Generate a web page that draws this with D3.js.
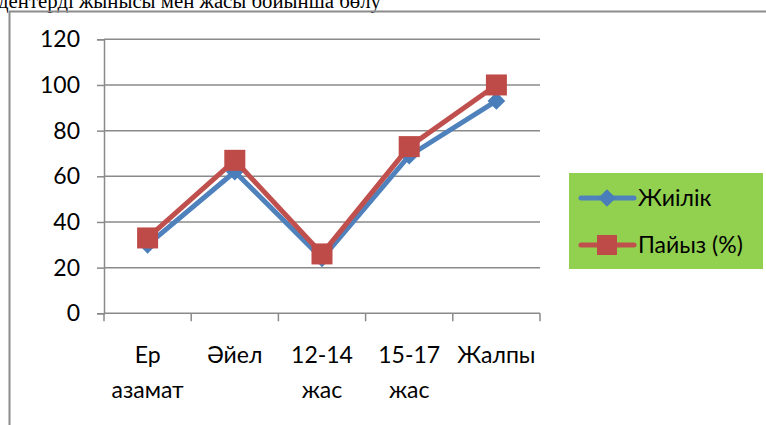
<!DOCTYPE html>
<html>
<head>
<meta charset="utf-8">
<script src="https://cdn.jsdelivr.net/npm/d3@7"></script>
<style>
  body { margin: 0; background: #fff; }
  svg { display: block; }
  .tick text { font-family: Lato, "Open Sans", sans-serif; }
</style>
</head>
<body>
<div id="chart"></div>
<script>
// chart data
var categories = ["Ер азамат", "Әйел", "12-14 жас", "15-17 жас", "Жалпы"];
var catLines = [["Ер", "азамат"], ["Әйел"], ["12-14", "жас"], ["15-17", "жас"], ["Жалпы"]];
var freqValues = [30, 62, 24, 69, 93];      // Жиілік
var pctValues = [33, 67, 26, 73, 100];      // Пайыз (%)
var yTicks = [0, 20, 40, 60, 80, 100, 120];
var seriesNames = ["Жиілік", "Пайыз (%)"];
var titleText = "дентерді жынысы мен жасы бойынша бөлу";

var svgWidth = 766;
var svgHeight = 425;

var plot = { left: 104, right: 540, top: 39.3, bottom: 313.3 };
var labelFont = "Lato, 'Open Sans', sans-serif";

var svg = d3.select("#chart")
    .append("svg")
    .attr("width", svgWidth)
    .attr("height", svgHeight);

// cut-off title from the document above the chart
svg.append("text")
    .attr("x", -2)
    .attr("y", 8)
    .style("font-family", "'Liberation Serif', 'Times New Roman', serif")
    .style("font-size", "20.8px")
    .attr("fill", "#000")
    .text(titleText);

// chart frame (only top and left edges visible)
svg.append("path")
    .attr("d", "M9.5,426V11.5H766")
    .attr("fill", "none")
    .attr("stroke", "#8c8c8c")
    .attr("stroke-width", 2);

var x = d3.scaleBand()
    .domain(categories)
    .range([plot.left, plot.right]);

var y = d3.scaleLinear()
    .domain([0, 120])
    .range([plot.bottom, plot.top]);

// gridlines
svg.append("g")
    .selectAll("line")
    .data(yTicks.slice(1))
    .enter()
    .append("line")
    .attr("x1", plot.left)
    .attr("x2", plot.right)
    .attr("y1", function(d) { return y(d); })
    .attr("y2", function(d) { return y(d); })
    .attr("stroke", "#8a8a8a")
    .attr("stroke-width", 1.5);

// y axis
var leftAxis = d3.axisLeft(y).tickValues(yTicks).tickSize(7).tickPadding(17);
var gy = svg.append("g")
    .attr("transform", "translate(" + plot.left + ",0)")
    .call(leftAxis);
gy.select(".domain").attr("stroke", "#8a8a8a").attr("stroke-width", 1.5);
gy.selectAll(".tick line").attr("stroke", "#8a8a8a").attr("stroke-width", 1.5);
gy.selectAll(".tick text").style("font-size", "23px").attr("fill", "#000");

// x axis: ticks at category boundaries
var edges = categories.map(function(c) { return x(c); }).concat([plot.right]);
svg.append("line")
    .attr("x1", plot.left).attr("x2", plot.right)
    .attr("y1", plot.bottom).attr("y2", plot.bottom)
    .attr("stroke", "#8a8a8a").attr("stroke-width", 1.5);
svg.append("g")
    .selectAll("line")
    .data(edges)
    .enter()
    .append("line")
    .attr("x1", function(d) { return d; })
    .attr("x2", function(d) { return d; })
    .attr("y1", plot.bottom)
    .attr("y2", plot.bottom + 8)
    .attr("stroke", "#8a8a8a")
    .attr("stroke-width", 1.5);

var xl = svg.append("g")
    .selectAll("text")
    .data(categories)
    .enter()
    .append("text")
    .attr("x", function(d) { return x(d) + x.bandwidth() / 2; })
    .attr("y", 363)
    .attr("text-anchor", "middle")
    .style("font-family", labelFont)
    .style("font-size", "23px")
    .attr("fill", "#000");
xl.selectAll("tspan")
    .data(function(d, i) { return catLines[i]; })
    .enter()
    .append("tspan")
    .attr("x", function() { return d3.select(this.parentNode).attr("x"); })
    .attr("dy", function(d, i) { return i === 0 ? 0 : 35; })
    .text(function(d) { return d; });

var cx = function(d, i) { return x(categories[i]) + x.bandwidth() / 2; };

var line = d3.line()
    .x(function(d, i) { return cx(d, i); })
    .y(function(d) { return y(d); });

// Жиілік series
svg.append("path")
    .datum(freqValues)
    .attr("d", line)
    .attr("fill", "none")
    .attr("stroke", "#4f81bd")
    .attr("stroke-width", 5)
    .attr("stroke-linejoin", "round");

svg.append("g")
    .selectAll("path")
    .data(freqValues)
    .enter()
    .append("path")
    .attr("d", d3.symbol().type(d3.symbolDiamond2).size(200))
    .attr("transform", function(d, i) { return "translate(" + cx(d, i) + "," + y(d) + ")"; })
    .attr("fill", "#4a7ebb");

// Пайыз series
svg.append("path")
    .datum(pctValues)
    .attr("d", line)
    .attr("fill", "none")
    .attr("stroke", "#c0504d")
    .attr("stroke-width", 5)
    .attr("stroke-linejoin", "round");

svg.append("g")
    .selectAll("rect")
    .data(pctValues)
    .enter()
    .append("rect")
    .attr("x", function(d, i) { return cx(d, i) - 10.5; })
    .attr("y", function(d) { return y(d) - 10.5; })
    .attr("width", 21)
    .attr("height", 21)
    .attr("fill", "#be4b48");

// legend
var legend = svg.append("g");
legend.append("rect")
    .attr("x", 569)
    .attr("y", 173)
    .attr("width", 194)
    .attr("height", 96)
    .attr("fill", "#92d050");

var legendY = [198, 245];
var colors = ["#4f81bd", "#c0504d"];
seriesNames.forEach(function(name, i) {
    legend.append("line")
        .attr("x1", 581).attr("x2", 634)
        .attr("y1", legendY[i]).attr("y2", legendY[i])
        .attr("stroke", colors[i])
        .attr("stroke-width", 5)
        .attr("stroke-linecap", "round");
    if (i === 0) {
        legend.append("path")
            .attr("d", d3.symbol().type(d3.symbolDiamond2).size(200))
            .attr("transform", "translate(607," + legendY[i] + ")")
            .attr("fill", "#4a7ebb");
    } else {
        legend.append("rect")
            .attr("x", 597).attr("y", legendY[i] - 10)
            .attr("width", 20).attr("height", 20)
            .attr("fill", "#be4b48");
    }
    legend.append("text")
        .attr("x", 638)
        .attr("y", legendY[i] + 8)
        .style("font-family", labelFont)
        .style("font-size", "23px")
        .attr("fill", "#000")
        .text(name);
});
</script>
</body>
</html>
